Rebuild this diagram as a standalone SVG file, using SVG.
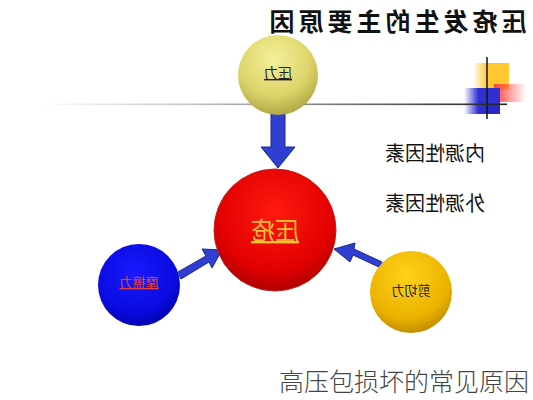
<svg xmlns="http://www.w3.org/2000/svg" width="533" height="400" viewBox="0 0 533 400">
<defs>
<style>
.cjk{font-family:"Noto Sans CJK SC","Noto Sans CJK JP",sans-serif;text-anchor:middle}
.arrow{fill:#2f3fd0;stroke:#1a2690;stroke-width:1}
</style>
<linearGradient id="line" x1="0" x2="1" y1="0" y2="0">
<stop offset="0" stop-color="#ffffff"/>
<stop offset="0.3" stop-color="#c8c8c8"/>
<stop offset="1" stop-color="#202020"/>
</linearGradient>
<radialGradient id="gy" cx="0.45" cy="0.3" r="0.75">
<stop offset="0" stop-color="#f4f09a"/>
<stop offset="0.6" stop-color="#ddd56a"/>
<stop offset="1" stop-color="#a8a040"/>
</radialGradient>
<radialGradient id="gr" cx="0.5" cy="0.35" r="0.7">
<stop offset="0" stop-color="#ff1a10"/>
<stop offset="0.7" stop-color="#e00000"/>
<stop offset="1" stop-color="#a00000"/>
</radialGradient>
<radialGradient id="gb" cx="0.45" cy="0.35" r="0.7">
<stop offset="0" stop-color="#1a1aff"/>
<stop offset="0.7" stop-color="#0a0ae0"/>
<stop offset="1" stop-color="#0000a0"/>
</radialGradient>
<radialGradient id="go" cx="0.45" cy="0.3" r="0.75">
<stop offset="0" stop-color="#ffd21a"/>
<stop offset="0.7" stop-color="#eab200"/>
<stop offset="1" stop-color="#b88400"/>
</radialGradient>
<linearGradient id="redfade" x1="0" x2="1">
<stop offset="0" stop-color="#ff4040"/>
<stop offset="1" stop-color="#ff4040" stop-opacity="0"/>
</linearGradient>
<linearGradient id="bluefade" x1="0" x2="1">
<stop offset="0" stop-color="#3030d0" stop-opacity="0"/>
<stop offset="0.4" stop-color="#3030d0"/>
<stop offset="1" stop-color="#3030d0"/>
</linearGradient>
<linearGradient id="yfade" x1="0" x2="1">
<stop offset="0" stop-color="#ffc830" stop-opacity="0"/>
<stop offset="0.4" stop-color="#ffc830"/>
<stop offset="1" stop-color="#ffc830"/>
</linearGradient>
</defs>
<rect width="533" height="400" fill="#ffffff"/>

<g id="title">
<text class="cjk" transform="translate(396,31) scale(-1,1)" font-size="25" font-weight="bold" letter-spacing="4" fill="#111">压疮发生的主要原因</text>
</g>

<g id="decor">
<rect x="473" y="63" width="36" height="26" fill="url(#yfade)"/>
<rect x="494" y="84" width="32" height="18" fill="url(#redfade)"/>
<rect x="464" y="88" width="36" height="26" fill="url(#bluefade)"/>
<rect x="488" y="104" width="12" height="10" fill="#2828c8"/>
<line x1="487" y1="57" x2="487" y2="119" stroke="#111" stroke-width="1.5"/>
<rect x="40" y="103.5" width="467" height="1.6" fill="url(#line)"/>
</g>

<g id="connectors">
<polygon class="arrow" points="271,113 285,113 285,147 295,147 278,168 261,147 271,147"/>
<polygon class="arrow" points="178,272 206,256 202,249 222,250 212,268 209,262 181,279"/>
<polygon class="arrow" points="381,268 353,255 350,262 334,249 355,243 354,249 382,262"/>
</g>

<g id="node-pressure">
<circle cx="278" cy="75" r="40" fill="url(#gy)"/>
<text class="cjk" transform="translate(278,78) scale(-1,1)" font-size="14" fill="#222" text-decoration="underline">压力</text>
</g>

<g id="node-center">
<circle cx="275" cy="230" r="61" fill="url(#gr)" stroke="#c02020" stroke-width="1"/>
<text class="cjk" transform="translate(275,239) scale(-1,1)" font-size="24" fill="#f2c233" text-decoration="underline">压疮</text>
</g>

<g id="node-friction">
<circle cx="139" cy="285" r="41" fill="url(#gb)"/>
<text class="cjk" transform="translate(139,287) scale(-1,1)" font-size="13" fill="#e84040" text-decoration="underline">摩擦力</text>
</g>

<g id="node-shear">
<circle cx="411" cy="292" r="41" fill="url(#go)"/>
<text class="cjk" transform="translate(411,295) scale(-1,1)" font-size="13" fill="#222">剪切力</text>
</g>

<g id="labels">
<text class="cjk" transform="translate(435,161) scale(-1,1)" font-size="20" fill="#111">内源性因素</text>
<text class="cjk" transform="translate(435,211) scale(-1,1)" font-size="20" fill="#111">外源性因素</text>
</g>

<g id="caption">
<text class="cjk" x="404" y="391" font-size="25" font-weight="300" fill="#444">高压包损坏的常见原因</text>
</g>
</svg>
